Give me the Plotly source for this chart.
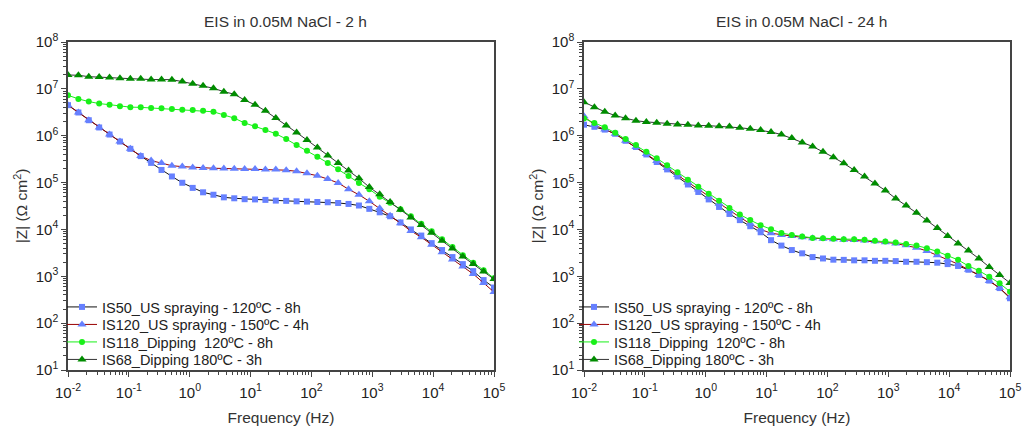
import plotly.graph_objects as go

# ---------------- data ----------------
freq = [0.01, 0.01482, 0.02195, 0.03252, 0.04819, 0.07140, 0.1058, 0.1567, 0.2322, 0.3440,
        0.5097, 0.7551, 1.119, 1.658, 2.456, 3.639, 5.392, 7.989, 11.84, 17.54,
        25.98, 38.50, 57.04, 84.52, 125.2, 185.5, 274.8, 407.2, 603.4, 894.0,
        1324, 1963, 2908, 4308, 6383, 9458, 14010, 20760, 30760, 45570, 67520, 100000]

series_names = ["IS50_US spraying - 120ºC - 8h",
                "IS120_US spraying - 150ºC - 4h",
                "IS118_Dipping\u00a0\u00a0120ºC - 8h",
                "IS68_Dipping 180ºC - 3h"]

# 2 h immersion
z_is50_2h = [4.49e6, 3.13e6, 2.14e6, 1.50e6, 1.06e6, 7.5e5, 5.25e5, 3.67e5, 2.63e5, 1.86e5,
             1.35e5, 9.9e4, 7.7e4, 6.2e4, 5.5e4, 4.84e4, 4.62e4, 4.42e4, 4.37e4, 4.27e4,
             4.12e4, 4.07e4, 3.98e4, 3.92e4, 3.85e4, 3.80e4, 3.67e4, 3.50e4, 3.24e4, 2.75e4,
             2.32e4, 1.91e4, 1.41e4, 1.0e4, 7.4e3, 5.1e3, 3.63e3, 2.57e3, 1.82e3, 1.29e3, 8.3e2, 5.75e2]
z_is120_2h = [4.49e6, 3.13e6, 2.14e6, 1.50e6, 1.06e6, 7.5e5, 5.25e5, 3.67e5, 2.95e5, 2.63e5,
              2.29e5, 2.19e5, 2.11e5, 2.04e5, 2.02e5, 2.0e5, 1.97e5, 1.95e5, 1.95e5, 1.91e5,
              1.90e5, 1.84e5, 1.74e5, 1.58e5, 1.40e5, 1.19e5, 9.8e4, 7.2e4, 5.5e4, 3.98e4,
              2.82e4, 1.95e4, 1.35e4, 9.3e3, 6.8e3, 4.7e3, 3.24e3, 2.29e3, 1.62e3, 1.12e3, 7.2e2, 4.6e2]
z_is118_2h = [7.3e6, 6.1e6, 5.36e6, 4.85e6, 4.59e6, 4.27e6, 4.07e6, 4.03e6, 3.91e6, 3.85e6,
              3.72e6, 3.57e6, 3.52e6, 3.39e6, 3.24e6, 2.77e6, 2.37e6, 1.87e6, 1.60e6, 1.33e6,
              1.10e6, 8.5e5, 6.3e5, 4.8e5, 3.55e5, 2.63e5, 1.93e5, 1.38e5, 9.8e4, 7.2e4,
              5.0e4, 3.7e4, 2.7e4, 1.9e4, 1.32e4, 9.1e3, 6.2e3, 4.2e3, 2.8e3, 1.95e3, 1.35e3, 9.1e2]
z_is68_2h = [1.98e7, 1.95e7, 1.82e7, 1.80e7, 1.74e7, 1.69e7, 1.64e7, 1.64e7, 1.58e7, 1.58e7,
             1.57e7, 1.43e7, 1.29e7, 1.17e7, 1.03e7, 8.7e6, 7.7e6, 5.75e6, 4.57e6, 3.39e6,
             2.40e6, 1.66e6, 1.17e6, 8.1e5, 5.6e5, 3.8e5, 2.63e5, 1.80e5, 1.23e5, 8.0e4,
             5.6e4, 3.85e4, 2.63e4, 1.80e4, 1.24e4, 8.5e3, 5.75e3, 3.9e3, 2.63e3, 1.82e3, 1.26e3, 8.7e2]

# 24 h immersion
z_is50_24h = [1.72e6, 1.55e6, 1.35e6, 1.10e6, 7.8e5, 5.75e5, 3.98e5, 2.75e5, 1.91e5, 1.35e5,
              9.1e4, 6.3e4, 4.37e4, 3.02e4, 2.14e4, 1.58e4, 1.17e4, 8.7e3, 5.9e3, 4.52e3,
              3.63e3, 3.09e3, 2.57e3, 2.40e3, 2.26e3, 2.24e3, 2.19e3, 2.19e3, 2.14e3, 2.14e3,
              2.11e3, 2.04e3, 2.04e3, 2.0e3, 1.95e3, 1.82e3, 1.66e3, 1.38e3, 1.07e3, 8.1e2, 5.6e2, 3.4e2]
z_is120_24h = [2.6e6, 1.70e6, 1.35e6, 1.10e6, 7.8e5, 5.75e5, 4.07e5, 2.88e5, 2.04e5, 1.45e5,
               1.0e5, 7.1e4, 5.0e4, 3.55e4, 2.51e4, 1.82e4, 1.32e4, 1.0e4, 8.3e3, 7.6e3,
               7.2e3, 6.8e3, 6.5e3, 6.3e3, 6.2e3, 6.0e3, 5.95e3, 5.8e3, 5.6e3, 5.3e3,
               5.0e3, 4.57e3, 4.07e3, 3.47e3, 2.82e3, 2.24e3, 1.82e3, 1.38e3, 1.07e3, 7.9e2, 5.6e2, 3.55e2]
z_is118_24h = [2.34e6, 1.86e6, 1.51e6, 1.15e6, 8.5e5, 6.3e5, 4.57e5, 3.31e5, 2.34e5, 1.66e5,
               1.15e5, 8.1e4, 5.75e4, 4.07e4, 2.88e4, 2.09e4, 1.58e4, 1.23e4, 1.01e4, 8.4e3,
               7.6e3, 7.1e3, 6.6e3, 6.5e3, 6.3e3, 6.2e3, 6.2e3, 6.0e3, 5.75e3, 5.5e3,
               5.25e3, 4.9e3, 4.52e3, 3.98e3, 3.39e3, 2.75e3, 2.24e3, 1.66e3, 1.32e3, 9.8e2, 7.1e2, 4.7e2]
z_is68_24h = [5.2e6, 4.07e6, 3.24e6, 2.69e6, 2.37e6, 2.09e6, 1.97e6, 1.90e6, 1.80e6, 1.74e6,
              1.71e6, 1.65e6, 1.64e6, 1.60e6, 1.57e6, 1.48e6, 1.40e6, 1.32e6, 1.20e6, 1.06e6,
              8.9e5, 7.2e5, 5.9e5, 4.57e5, 3.47e5, 2.57e5, 1.86e5, 1.35e5, 9.5e4, 6.8e4,
              4.57e4, 3.24e4, 2.26e4, 1.55e4, 1.07e4, 7.2e3, 5.0e3, 3.55e3, 2.4e3, 1.58e3, 1.07e3, 7.2e2]

titles = ["EIS in 0.05M NaCl - 2 h", "EIS in 0.05M NaCl - 24 h"]
x_tickvals = [0.01, 0.1, 1, 10, 100, 1000, 10000, 100000]
x_ticktext = ["10<sup>-2</sup>", "10<sup>-1</sup>", "10<sup>0</sup>", "10<sup>1</sup>",
              "10<sup>2</sup>", "10<sup>3</sup>", "10<sup>4</sup>", "10<sup>5</sup>"]
y_tickvals = [10, 100, 1000, 1e4, 1e5, 1e6, 1e7, 1e8]
y_ticktext = ["10<sup>1</sup>", "10<sup>2</sup>", "10<sup>3</sup>", "10<sup>4</sup>",
              "10<sup>5</sup>", "10<sup>6</sup>", "10<sup>7</sup>", "10<sup>8</sup>"]

# ---------------- styles ----------------
FONT = "Arial, Liberation Sans, sans-serif"
styles = [
    dict(line_color="#111111", marker_color="#6680FF", symbol="square", size=6),
    dict(line_color="#990000", marker_color="#6680FF", symbol="triangle-up", size=8),
    dict(line_color="#19F019", marker_color="#19F019", symbol="circle", size=6),
    dict(line_color="#333333", marker_color="#008C00", symbol="triangle-up", size=8),
]

W, H = 1024, 428
def px(v): return v / W
def py(v): return 1 - v / H

legend_rows_y = [307, 324.5, 342, 359.5]
panels = [
    ([z_is50_2h, z_is120_2h, z_is118_2h, z_is68_2h], "x", "y", 62),
    ([z_is50_24h, z_is120_24h, z_is118_24h, z_is68_24h], "x2", "y2", 574),
]

fig = go.Figure()
legend_layout = {}
lg_idx = 0
for series, xa, ya, lg_x in panels:
    for row, (name, z, st) in enumerate(zip(series_names, series, styles)):
        lg_idx += 1
        lg_name = "legend" if lg_idx == 1 else f"legend{lg_idx}"
        fig.add_trace(go.Scatter(
            x=freq, y=z, name=name, mode="lines+markers",
            xaxis=xa, yaxis=ya, legend=lg_name,
            line=dict(color=st["line_color"], width=1),
            marker=dict(color=st["marker_color"], symbol=st["symbol"], size=st["size"],
                        line=dict(width=0)),
        ))
        legend_layout[lg_name] = dict(
            x=px(lg_x), y=py(legend_rows_y[row]), xanchor="left", yanchor="middle",
            bgcolor="rgba(0,0,0,0)", borderwidth=0, itemwidth=30,
            font=dict(family=FONT, size=14.5, color="#222222"))

axis_common = dict(showline=True, linecolor="#444444", linewidth=1.5, mirror=True,
                   showgrid=False, zeroline=False, ticks="outside", ticklen=5,
                   tickwidth=1, tickcolor="#444444",
                   tickfont=dict(family=FONT, size=15, color="#222222"),
                   minor=dict(ticks="outside", ticklen=3, tickwidth=1, tickcolor="#444444",
                              dtick="D1", showgrid=False),
                   automargin=False)

xd = [[px(68), px(494)], [px(584), px(1010)]]
yd = [py(370), py(42)]

for i, (xk, yk, yanchor, xanchor) in enumerate([("xaxis", "yaxis", "y", "x"),
                                                  ("xaxis2", "yaxis2", "y2", "x2")]):
    fig.layout[xk] = dict(type="log", range=[-2, 5], domain=xd[i], anchor=yanchor,
                          tickmode="array", tickvals=x_tickvals, ticktext=x_ticktext,
                          ticklabelstandoff=3,
                          title=dict(text="Frequency (Hz)", standoff=12,
                                     font=dict(family=FONT, size=15.5, color="#333333")),
                          **axis_common)
    fig.layout[yk] = dict(type="log", range=[1, 8], domain=yd, anchor=xanchor,
                          tickmode="array", tickvals=y_tickvals, ticktext=y_ticktext,
                          title=dict(text="|Z| (\u03a9 cm<sup>2</sup>)", standoff=4,
                                     font=dict(family=FONT, size=15.5, color="#333333")),
                          **axis_common)

fig.update_layout(
    width=W, height=H,
    margin=dict(l=0, r=0, t=0, b=0),
    paper_bgcolor="white", plot_bgcolor="white",
    showlegend=True,
    **legend_layout,
)

for i, t in enumerate(titles):
    cx = (xd[i][0] + xd[i][1]) / 2
    fig.add_annotation(text=t, x=cx + px(4), y=py(22), xref="paper", yref="paper",
                       showarrow=False, xanchor="center", yanchor="middle",
                       font=dict(family=FONT, size=15.5, color="#333333"))

fig.write_html("out.html", config={"displayModeBar": False},
               post_script="document.body.style.margin='0px';")
